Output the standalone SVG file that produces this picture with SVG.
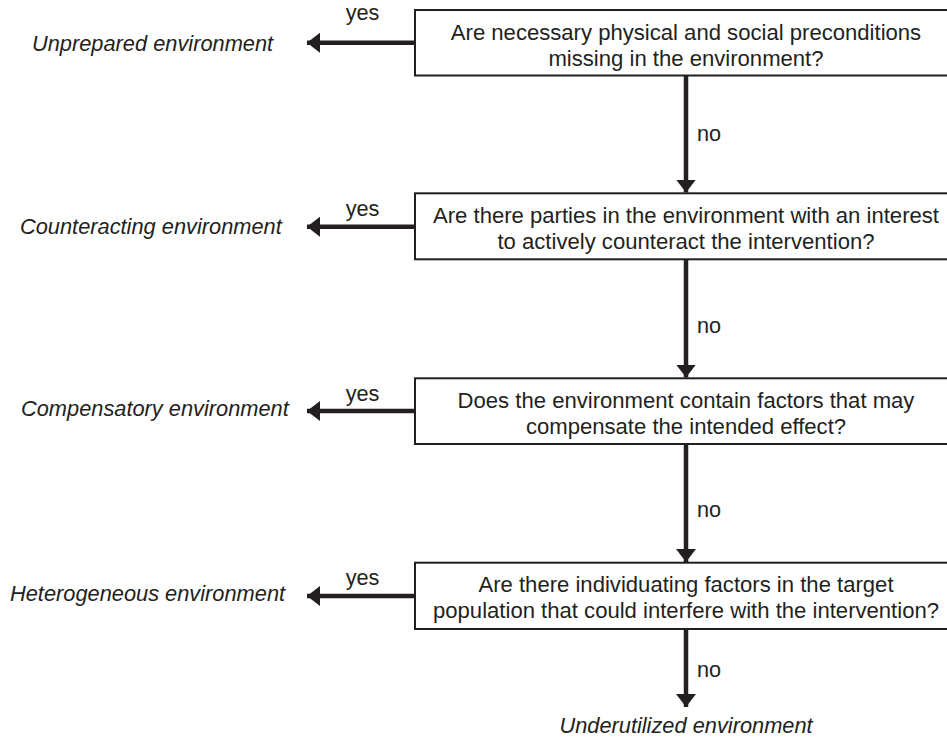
<svg xmlns="http://www.w3.org/2000/svg" width="947" height="737" viewBox="0 0 947 737">
<style>
text{font-family:"Liberation Sans",Arial,sans-serif;font-size:21.7px;fill:#231f20}
.q{text-anchor:middle}
.bt{font-size:22.1px}
.out{font-style:italic;font-size:21.8px}
.box{fill:#fff;stroke:#231f20;stroke-width:2}
.con{stroke:#231f20;stroke-width:4.5;fill:none}
</style>
<defs>
<marker id="ah" viewBox="0 0 13 20" refX="13" refY="10" markerWidth="13" markerHeight="20" markerUnits="userSpaceOnUse" orient="auto">
<path d="M0,0 L13,10 L0,20 Z" fill="#231f20"/>
</marker>
</defs>
<g id="connectors">
<line class="con" x1="415" y1="42.7" x2="307" y2="42.7" marker-end="url(#ah)"/>
<line class="con" x1="415" y1="226.7" x2="307" y2="226.7" marker-end="url(#ah)"/>
<line class="con" x1="415" y1="411" x2="307" y2="411" marker-end="url(#ah)"/>
<line class="con" x1="415" y1="596" x2="307" y2="596" marker-end="url(#ah)"/>
<line class="con" x1="686" y1="75.5" x2="686" y2="192.5" marker-end="url(#ah)"/>
<line class="con" x1="686" y1="259.3" x2="686" y2="377.5" marker-end="url(#ah)"/>
<line class="con" x1="686" y1="444" x2="686" y2="562" marker-end="url(#ah)"/>
<line class="con" x1="686" y1="629" x2="686" y2="707" marker-end="url(#ah)"/>
<text x="362.5" y="20" class="q">yes</text>
<text x="362.5" y="216" class="q">yes</text>
<text x="362.5" y="401" class="q">yes</text>
<text x="362.5" y="585" class="q">yes</text>
<text x="697" y="141">no</text>
<text x="697" y="333">no</text>
<text x="697" y="517">no</text>
<text x="697" y="677">no</text>
</g>
<g id="q1">
<rect class="box" x="415" y="10" width="545" height="65.5"/>
<text class="q bt" x="686" y="39.5">Are necessary physical and social preconditions</text>
<text class="q bt" x="686" y="65.5">missing in the environment?</text>
</g>
<g id="q2">
<rect class="box" x="415" y="193.3" width="545" height="66"/>
<text class="q bt" x="686" y="222.8">Are there parties in the environment with an interest</text>
<text class="q bt" x="686" y="248.8">to actively counteract the intervention?</text>
</g>
<g id="q3">
<rect class="box" x="415" y="378.3" width="545" height="65.7"/>
<text class="q bt" x="686" y="407.8">Does the environment contain factors that may</text>
<text class="q bt" x="686" y="433.8">compensate the intended effect?</text>
</g>
<g id="q4">
<rect class="box" x="415" y="562.7" width="545" height="66.3"/>
<text class="q bt" x="686" y="592.2">Are there individuating factors in the target</text>
<text class="q bt" x="686" y="618.2">population that could interfere with the intervention?</text>
</g>
<g id="out1"><text class="out" x="32" y="50.5">Unprepared environment</text></g>
<g id="out2"><text class="out" x="20" y="234">Counteracting environment</text></g>
<g id="out3"><text class="out" x="21" y="416">Compensatory environment</text></g>
<g id="out4"><text class="out" x="10" y="601">Heterogeneous environment</text></g>
<g id="out5"><text class="out q" x="686" y="733">Underutilized environment</text></g>
</svg>
